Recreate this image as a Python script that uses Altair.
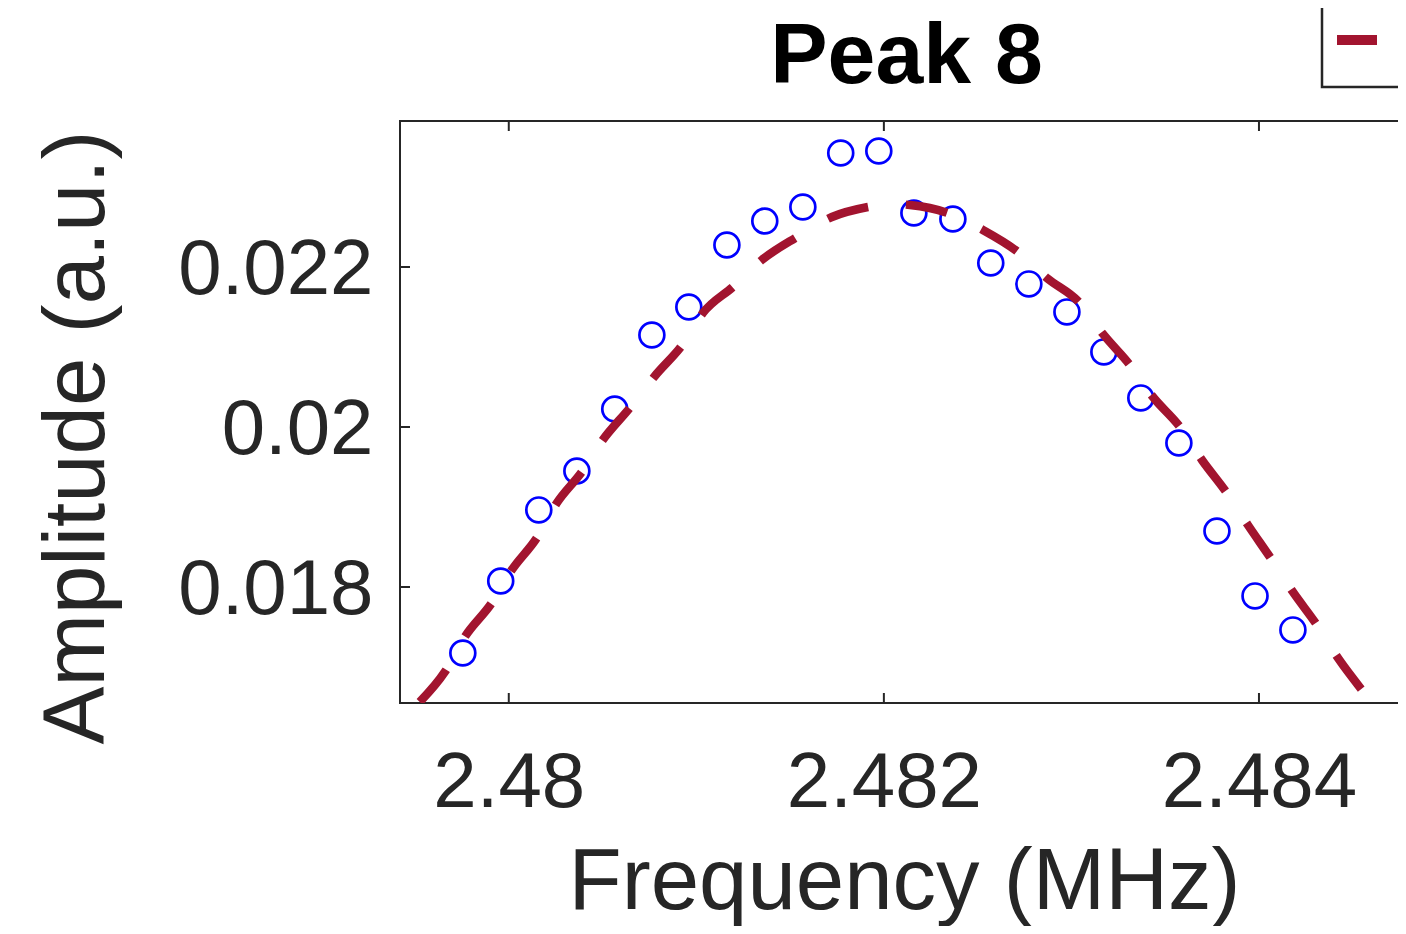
import altair as alt
import pandas as pd

# measured data (circles)
freq_data = [2.479755, 2.479957, 2.480160, 2.480363, 2.480565, 2.480763, 2.480960,
             2.481163, 2.481365, 2.481568, 2.481770, 2.481973, 2.482160, 2.482368,
             2.482570, 2.482773, 2.482976, 2.483173, 2.483370, 2.483573, 2.483776,
             2.483979, 2.484181]
amp_data = [0.017175, 0.018075, 0.018963, 0.019450, 0.020225, 0.021150, 0.021500,
            0.022275, 0.022575, 0.022750, 0.023425, 0.023450, 0.022675, 0.022600,
            0.022050, 0.021788, 0.021438, 0.020938, 0.020363, 0.019800, 0.018700,
            0.017888, 0.017463]

# fit curve (dashed)
freq_fit = [2.479525, 2.479659, 2.479765, 2.479909, 2.480016, 2.480149, 2.480256,
            2.480389, 2.480501, 2.480645, 2.480779, 2.480933, 2.481035, 2.481195,
            2.481349, 2.481536, 2.481723, 2.481915, 2.482032, 2.482139, 2.482341,
            2.482528, 2.482715, 2.482869, 2.483045, 2.483168, 2.483312, 2.483435,
            2.483579, 2.483696, 2.483829, 2.483941, 2.484069, 2.484181, 2.484309,
            2.484421, 2.484549]
amp_fit = [0.016563, 0.016938, 0.017375, 0.017800, 0.018213, 0.018613, 0.019050,
           0.019438, 0.019838, 0.020238, 0.020638, 0.021050, 0.021425, 0.021750,
           0.022088, 0.022375, 0.022625, 0.022750, 0.022788, 0.022775, 0.022675,
           0.022463, 0.022188, 0.021863, 0.021550, 0.021163, 0.020775, 0.020375,
           0.020000, 0.019588, 0.019175, 0.018775, 0.018338, 0.017938, 0.017525,
           0.017113, 0.016713]

x_ticks = [2.480, 2.482, 2.484]
y_ticks = [0.018, 0.020, 0.022]
x_domain = [2.47942, 2.4848]
y_domain = [0.01655, 0.023825]
title_text = ["Peak 8"]

W, H = 1009, 582
FONT = "Liberation Sans"
AX = "#262626"

df_data = pd.DataFrame({"f": freq_data, "a": amp_data})
df_fit = pd.DataFrame({"f": freq_fit, "a": amp_fit, "series": ["Fit"] * len(freq_fit)})
df_xt = pd.DataFrame({"f": x_ticks})
df_yt = pd.DataFrame({"a": y_ticks})
df_title = pd.DataFrame({"t": title_text})

xs = alt.Scale(domain=x_domain, nice=False, zero=False)
ys = alt.Scale(domain=y_domain, nice=False, zero=False)

xaxis = alt.Axis(values=x_ticks, format="~g", ticks=False, domain=False, grid=False,
                 labelFont=FONT, labelFontSize=78, labelColor=AX, labelPadding=41,
                 labelFlush=False, labelOverlap=False, labelLimit=1000,
                 title="Frequency (MHz)", titleFont=FONT, titleFontSize=87,
                 titleFontWeight="normal", titleColor=AX, titleX=504, titleY=205,
                 titleBaseline="alphabetic", titleAlign="center", titleLimit=2000)
yaxis = alt.Axis(values=y_ticks, format="~g", ticks=False, domain=False, grid=False,
                 labelFont=FONT, labelFontSize=78, labelColor=AX, labelPadding=27,
                 labelOffset=3,
                 labelFlush=False, labelOverlap=False, labelLimit=1000,
                 title="Amplitude (a.u.)", titleFont=FONT, titleFontSize=87,
                 titleFontWeight="normal", titleColor=AX, titleX=-297, titleY=316,
                 titleAngle=270, titleBaseline="alphabetic", titleAlign="center",
                 titleLimit=2000)

X = lambda: alt.X("f:Q", scale=xs, axis=xaxis)
Y = lambda: alt.Y("a:Q", scale=ys, axis=yaxis)

points = alt.Chart(df_data).mark_point(
    shape="circle", filled=False, color="#0000FF", size=620, strokeWidth=2.7, opacity=1
).encode(x=X(), y=Y())

fit = alt.Chart(df_fit).mark_line(
    strokeWidth=8.5, strokeDash=[42, 38], clip=True, interpolate="monotone"
).encode(
    x=X(), y=Y(),
    stroke=alt.Stroke("series:N",
                      scale=alt.Scale(domain=["Fit"], range=["#A2142F"]),
                      legend=alt.Legend(orient="none", legendX=922, legendY=-128,
                                        title=None, padding=16, labelFontSize=62,
                                        labelFont=FONT, labelColor=AX, labelOffset=40,
                                        symbolType="stroke", symbolSize=1600,
                                        symbolOffset=-12,
                                        symbolStrokeWidth=10, strokeColor=AX,
                                        fillColor="white")),
)

tick_style = dict(color=AX, strokeWidth=2)
bottom_ticks = alt.Chart(df_xt).mark_rule(**tick_style).encode(
    x=X(), y=alt.value(H), y2=alt.value(H - 10))
top_ticks = alt.Chart(df_xt).mark_rule(**tick_style).encode(
    x=X(), y=alt.value(0), y2=alt.value(10))
left_ticks = alt.Chart(df_yt).mark_rule(**tick_style).encode(
    y=Y(), x=alt.value(0), x2=alt.value(10))
right_ticks = alt.Chart(df_yt).mark_rule(**tick_style).encode(
    y=Y(), x=alt.value(W), x2=alt.value(W - 10))

title = alt.Chart(df_title).mark_text(
    font=FONT, fontSize=86, fontWeight="bold", color="#000000",
    align="center", baseline="alphabetic"
).encode(text="t:N", x=alt.value(W / 2 + 2), y=alt.value(-38))

chart = alt.layer(points, fit, bottom_ticks, top_ticks, left_ticks, right_ticks, title).properties(
    width=W, height=H,
    autosize=alt.AutoSizeParams(type="none"),
    padding={"left": 392, "top": 113, "right": -11, "bottom": 223},
).configure_view(stroke=AX, strokeWidth=2).configure_legend(strokeWidth=2.5)

chart.save("out.html", embed_options={"renderer": "svg", "actions": False})
